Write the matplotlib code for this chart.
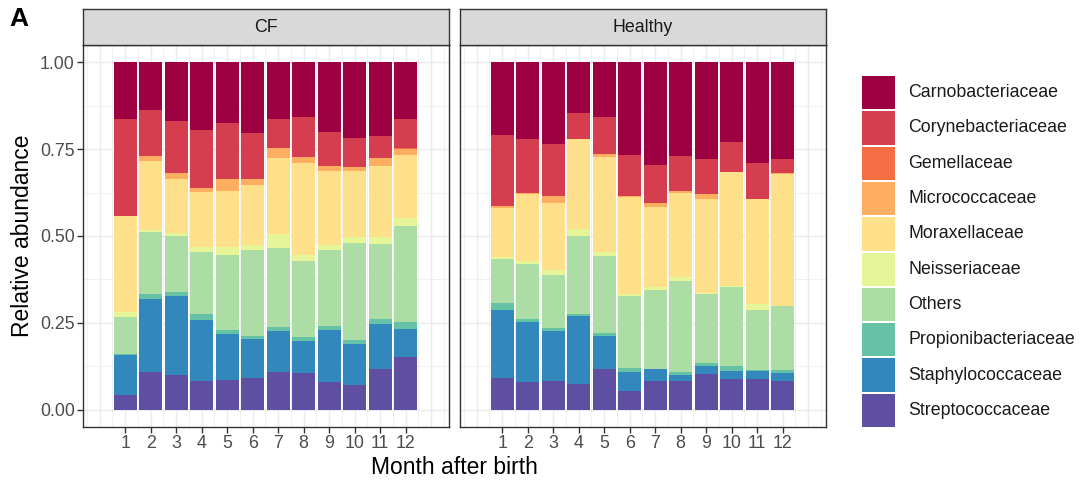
import numpy as np
import matplotlib
matplotlib.use("Agg")
import matplotlib.pyplot as plt
from matplotlib.patches import Rectangle

plt.rcParams['font.family'] = ['Liberation Sans', 'DejaVu Sans']

months = list(range(1, 13))
month_labels = [str(m) for m in months]
groups = ["CF", "Healthy"]

families = ["Carnobacteriaceae", "Corynebacteriaceae", "Gemellaceae",
            "Micrococcaceae", "Moraxellaceae", "Neisseriaceae", "Others",
            "Propionibacteriaceae", "Staphylococcaceae", "Streptococcaceae"]

colors = ["#9E0142", "#D53E4F", "#F46D43", "#FDAE61", "#FEE08B",
          "#E6F598", "#ABDDA4", "#66C2A5", "#3288BD", "#5E4FA2"]

# Relative abundance per family and month (CF)
cf_strep = [.041, .108, .101, .082, .086, .092, .108, .106, .080, .070, .116, .152]
cf_staph = [.115, .212, .226, .177, .131, .110, .118, .092, .150, .118, .130, .081]
cf_propioni = [.003, .014, .012, .015, .011, .009, .012, .011, .010, .012, .015, .019]
cf_others = [.108, .178, .160, .180, .216, .248, .227, .219, .221, .280, .217, .277]
cf_neisseria = [.014, .004, .010, .014, .024, .016, .042, .016, .012, .017, .019, .023]
cf_moraxella = [.277, .200, .156, .159, .163, .171, .219, .266, .214, .190, .206, .180]
cf_micrococc = [.000, .013, .016, .011, .034, .017, .028, .017, .016, .012, .023, .018]
cf_gemella = [.000, .000, .000, .000, .000, .000, .000, .000, .000, .000, .000, .002]
cf_coryne = [.280, .133, .150, .168, .160, .134, .084, .116, .096, .083, .062, .084]
cf_carno = [.162, .138, .169, .194, .175, .203, .162, .157, .201, .218, .212, .164]

# Relative abundance per family and month (Healthy)
h_strep = [.091, .080, .082, .075, .116, .053, .082, .082, .102, .087, .089, .082]
h_staph = [.195, .172, .144, .195, .096, .055, .036, .017, .023, .024, .022, .024]
h_propioni = [.022, .010, .010, .004, .009, .013, .000, .008, .010, .014, .004, .009]
h_others = [.127, .156, .151, .226, .221, .205, .226, .262, .199, .228, .171, .183]
h_neisseria = [.005, .010, .016, .019, .012, .008, .009, .013, .002, .002, .017, .000]
h_moraxella = [.142, .194, .192, .261, .273, .278, .230, .242, .271, .329, .303, .380]
h_micrococc = [.003, .002, .021, .000, .010, .002, .012, .005, .015, .000, .000, .002]
h_gemella = [.000, .000, .000, .000, .000, .000, .000, .000, .000, .000, .000, .000]
h_coryne = [.205, .156, .148, .074, .106, .120, .110, .100, .101, .087, .104, .043]
h_carno = [.210, .220, .236, .146, .157, .266, .295, .271, .277, .229, .290, .277]

# stacking order from the bottom up (reverse of the legend)
cf_stack = [cf_strep, cf_staph, cf_propioni, cf_others, cf_neisseria,
            cf_moraxella, cf_micrococc, cf_gemella, cf_coryne, cf_carno]
h_stack = [h_strep, h_staph, h_propioni, h_others, h_neisseria,
           h_moraxella, h_micrococc, h_gemella, h_coryne, h_carno]
stack_colors = colors[::-1]

W, H = 1080, 484
fig = plt.figure(figsize=(W / 100, H / 100), dpi=100)


def px_axes(left, top, right, bottom):
    return fig.add_axes([left / W, 1 - bottom / H, (right - left) / W, (bottom - top) / H])


grey20 = "#333333"
grid_col = "#EBEBEB"
tick_col = "#4D4D4D"

panels = [(83, 449, "CF", cf_stack), (460, 826, "Healthy", h_stack)]
for i, (left, right, title, stack) in enumerate(panels):
    ax = px_axes(left, 45, right, 427)
    ax.set_xlim(-0.65, 13.7)
    ax.set_ylim(-0.05, 1.05)
    # background grid
    for xv in np.arange(-0.5, 14, 0.5):
        ax.axvline(xv, color=grid_col, lw=1.0 if xv % 1 == 0 else 0.5, zorder=0)
    for yv in np.arange(0, 1.01, 0.125):
        ax.axhline(yv, color=grid_col, lw=1.0 if (yv * 4) % 1 == 0 else 0.5, zorder=0)
    bottom = np.zeros(len(months))
    for vals, col in zip(stack, stack_colors):
        v = np.array(vals)
        ax.bar(months, v, bottom=bottom, width=0.9, color=col, lw=0, zorder=2)
        bottom += v
    ax.set_xticks(months)
    ax.set_xticklabels(month_labels)
    ax.set_yticks([0, 0.25, 0.5, 0.75, 1.0])
    ax.tick_params(axis='both', colors=grey20, labelcolor=tick_col, labelsize=12.8,
                   length=4, width=1, pad=2)
    if i == 0:
        ax.set_yticklabels(["0.00", "0.25", "0.50", "0.75", "1.00"])
        ax.set_ylabel("Relative abundance", fontsize=16.5, labelpad=4)
    else:
        ax.set_yticklabels([])
        ax.tick_params(axis='y', length=0)
    for s in ax.spines.values():
        s.set_color(grey20)
        s.set_linewidth(1.0)
    # strip header
    sax = px_axes(left, 9, right, 45)
    sax.set_xticks([])
    sax.set_yticks([])
    sax.set_facecolor("#D9D9D9")
    for s in sax.spines.values():
        s.set_color(grey20)
        s.set_linewidth(1.0)
    sax.text(0.5, 0.5, title, ha="center", va="center", fontsize=12.8,
             color="#1A1A1A", transform=sax.transAxes)

fig.text((83 + 826) / 2 / W, 1 - 467 / H, "Month after birth", ha="center",
         va="center", fontsize=16.5)
fig.text(9 / W, 1 - 19 / H, "A", ha="left", va="center", fontsize=19,
         fontweight="bold")

# legend
lax = fig.add_axes([0, 0, 1, 1])
lax.set_xlim(0, W)
lax.set_ylim(H, 0)
lax.axis("off")
key_top = 76
pitch = 35.3
for k, (name, col) in enumerate(zip(families, colors)):
    y0 = key_top + k * pitch
    lax.add_patch(Rectangle((862, y0), 33, pitch - 2, facecolor=col, lw=0))
    lax.text(908, y0 + (pitch - 2) / 2, name, ha="left", va="center",
             fontsize=12.8, color="#1A1A1A")

fig.savefig("out.png", dpi=100)
